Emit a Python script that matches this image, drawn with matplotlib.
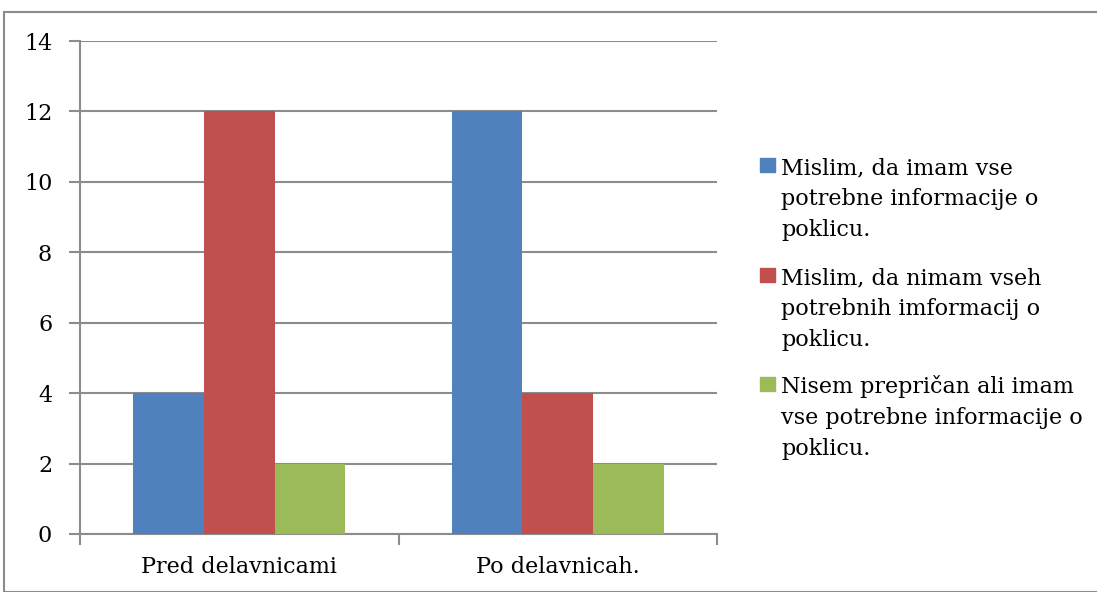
import matplotlib
matplotlib.use("Agg")
import matplotlib.pyplot as plt
from matplotlib.patches import Rectangle
import numpy as np

categories = ["Pred delavnicami", "Po delavnicah."]
series_names = [
    "Mislim, da imam vse\npotrebne informacije o\npoklicu.",
    "Mislim, da nimam vseh\npotrebnih imformacij o\npoklicu.",
    "Nisem prepričan ali imam\nvse potrebne informacije o\npoklicu.",
]
values = [
    [4, 12],
    [12, 4],
    [2, 2],
]
colors = ["#4F81BD", "#C0504D", "#9BBB59"]
yticks = [0, 2, 4, 6, 8, 10, 12, 14]

W, H = 1097, 592
fig = plt.figure(figsize=(W / 100, H / 100), dpi=100)
plt.rcParams['font.family'] = ['DejaVu Serif']
font = dict(family=['DejaVu Serif'], size=16)

# outer chart border
fig.patches.append(Rectangle((4 / W, 0), 1.2, 1 - 12 / H, transform=fig.transFigure,
                             fill=False, edgecolor="#8C8C8C", linewidth=1.5))

ax = fig.add_axes([80 / W, 58 / H, 637 / W, 493 / H])
ax.set_xlim(0, len(categories))
ax.set_ylim(0, 14)

bw = 2 / 9
x = np.arange(len(categories)) + 0.5
for i, (vals, c) in enumerate(zip(values, colors)):
    ax.bar(x + (i - 1) * bw, vals, width=bw, color=c, zorder=3)

ax.set_yticks(yticks)
ax.set_yticklabels([str(t) for t in yticks], fontdict=font)
ax.yaxis.grid(True, color="#8C8C8C", linewidth=1.5, zorder=0)
ax.set_axisbelow(True)

ax.set_xticks(np.arange(len(categories) + 1))
ax.set_xticklabels([""] * (len(categories) + 1))
ax.set_xticks(x, minor=True)
ax.set_xticklabels(categories, minor=True, fontdict=font)
ax.tick_params(axis="x", which="minor", length=0, pad=16)
ax.tick_params(axis="x", which="major", length=8, width=1.5, color="#8C8C8C", direction="out")
ax.tick_params(axis="y", length=8, width=1.5, color="#8C8C8C", direction="out", pad=12)

for s in ["top", "right"]:
    ax.spines[s].set_visible(False)
for s in ["left", "bottom"]:
    ax.spines[s].set_color("#8C8C8C")
    ax.spines[s].set_linewidth(1.5)

# legend drawn manually (pixel baselines of the first line of each entry)
baselines = [174, 284, 393]
line_step = 31
for name, c, by in zip(series_names, colors, baselines):
    fig.patches.append(Rectangle((760 / W, 1 - (by - 2) / H), 15 / W, 14 / H,
                                 transform=fig.transFigure, color=c))
    for k, line in enumerate(name.split("\n")):
        fig.text(781 / W, 1 - (by + k * line_step) / H, line, fontdict=font,
                 va="baseline", ha="left")

fig.savefig("out.png", dpi=100)
